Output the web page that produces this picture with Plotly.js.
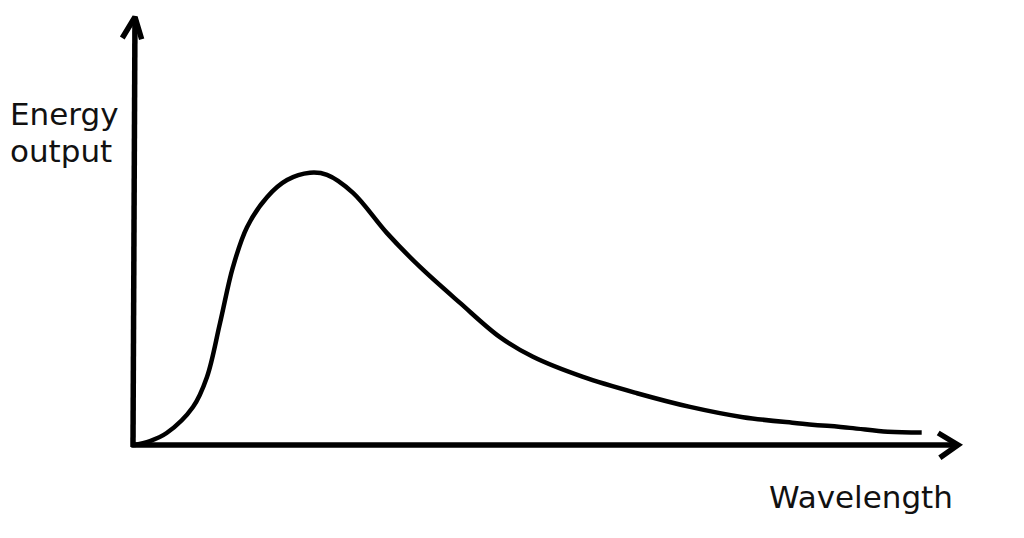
<!DOCTYPE html>
<html>
<head>
<meta charset="utf-8">
<script src="https://cdn.plot.ly/plotly-3.0.1.min.js"></script>
<style>html,body{margin:0;padding:0;background:#fff;}#chart{width:1024px;height:538px;}</style>
</head>
<body>
<div id="chart"></div>
<script>
// Curve values (arbitrary units: wavelength 0-100, energy 0-100)
var wavelength = [0, 2.06, 4.08, 7.27, 8.97, 10.55, 12.12, 13.82, 16.24, 18.67, 21.45, 23.52, 26.67, 30.79, 34.79, 39.64, 44.48, 48.48, 54.55, 61.09, 67.52, 73.94, 80.48, 86.9, 91.5, 95.6];
var energy     = [0, 0.93, 2.8, 8.88, 15.9, 28.5, 41.6, 50.9, 57.9, 61.9, 63.6, 63.1, 58.9, 49.5, 41.6, 33.2, 25.2, 20.6, 15.9, 12.1, 8.9, 6.5, 5.1, 4.0, 3.1, 2.9];

// Axis arrows (data units)
var xAxisLineX = [-0.2, 100];
var xAxisLineY = [0, 0];
var yAxisLineX = [0, 0.24];
var yAxisLineY = [-0.5, 100];
var xArrowX = [97.6, 100, 97.8];
var xArrowY = [2.8, 0, -3.0];
var yArrowX = [-1.3, 0.24, 1.05];
var yArrowY = [95.1, 100, 94.8];

var yLabelLines = ["Energy", "output"];
var xLabel = "Wavelength";

var black = "#000";
var axisStyle = {color: black, width: 5.5};

var traces = [
  {x: xAxisLineX, y: xAxisLineY, mode: "lines", line: axisStyle, hoverinfo: "skip"},
  {x: yAxisLineX, y: yAxisLineY, mode: "lines", line: axisStyle, hoverinfo: "skip"},
  {x: xArrowX, y: xArrowY, mode: "lines", line: {color: black, width: 5.5}, hoverinfo: "skip"},
  {x: yArrowX, y: yArrowY, mode: "lines", line: {color: black, width: 5.5}, hoverinfo: "skip"},
  {x: wavelength, y: energy, mode: "lines", line: {color: black, width: 4.5, shape: "spline", smoothing: 1}, hoverinfo: "skip"}
];

var font = {family: "DejaVu Sans, Verdana, sans-serif", size: 31, color: "#111"};

var layout = {
  width: 1024, height: 538,
  margin: {l: 0, r: 0, t: 0, b: 0},
  paper_bgcolor: "#fff", plot_bgcolor: "#fff",
  showlegend: false,
  xaxis: {visible: false, range: [-16.12, 108.0], fixedrange: true},
  yaxis: {visible: false, range: [-21.73, 103.97], fixedrange: true},
  annotations: [
    {text: yLabelLines[0], xref: "paper", yref: "paper", x: 8/1024, y: 1 - 113.5/538, xanchor: "left", yanchor: "middle", showarrow: false, font: font},
    {text: yLabelLines[1], xref: "paper", yref: "paper", x: 8/1024, y: 1 - 150.5/538, xanchor: "left", yanchor: "middle", showarrow: false, font: font},
    {text: xLabel, xref: "paper", yref: "paper", x: 767/1024, y: 1 - 497/538, xanchor: "left", yanchor: "middle", showarrow: false, font: font}
  ]
};

Plotly.newPlot("chart", traces, layout, {displayModeBar: false, staticPlot: true});
</script>
</body>
</html>
